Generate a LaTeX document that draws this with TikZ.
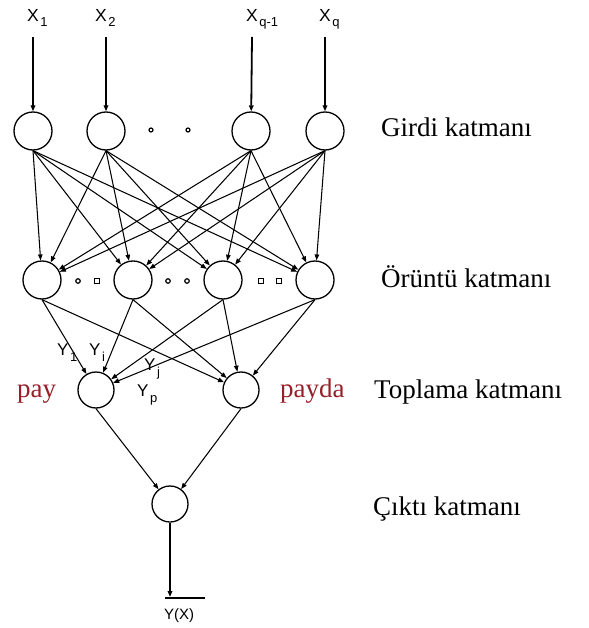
\documentclass[tikz,border=0pt]{standalone}
\usepackage{fontspec}
\setmainfont{Liberation Serif}
\setsansfont{Liberation Sans}
\usetikzlibrary{arrows.meta}

\definecolor{payred}{RGB}{150,32,42}

% lowered index in the sans labels
\newcommand\lowidx[2][5pt]{\kern1.5pt\raisebox{-#1}{\fontsize{13}{13}\selectfont #2}}

\begin{document}
\begin{tikzpicture}[x=1pt,y=-1pt,
  neuron/.style={draw, circle, line width=1.3pt, minimum size=38pt, inner sep=0pt},
  small neuron/.style={neuron, minimum size=36pt},
  link/.style={-{Triangle[length=6pt,width=4.5pt]}, line width=1.05pt},
  feed/.style={-{Triangle[length=6pt,width=4.5pt]}, line width=1.8pt},
  inlabel/.style={font=\sffamily\fontsize{17.5}{17.5}\selectfont, inner sep=0pt, anchor=base west},
  ylabel/.style={font=\sffamily\fontsize{17}{17}\selectfont, inner sep=0pt, anchor=base west},
  layer/.style={font=\fontsize{27}{27}\selectfont, inner sep=0pt, anchor=base west},
  redtext/.style={layer, text=payred},
  dotc/.style={draw, circle, line width=1.2pt, minimum size=4.5pt, inner sep=0pt},
  dots/.style={draw, rectangle, line width=1.2pt, minimum size=4.5pt, inner sep=0pt},
  ]
\useasboundingbox (0,0) rectangle (588,628);

% input labels and the free ends of the feeding arrows
\node[inlabel] (lx1) at (27,22) {X\lowidx{1}};
\node[inlabel] (lx2) at (95,22) {X\lowidx{2}};
\node[inlabel] (lx3) at (246,22) {X\lowidx{q-1}};
\node[inlabel] (lx4) at (319,22) {X\lowidx{q}};
\coordinate (t1) at (33,37);
\coordinate (t2) at (106,37);
\coordinate (t3) at (252,37);
\coordinate (t4) at (325,37);

% input layer
\node[neuron] (i1) at (33,131) {};
\node[neuron] (i2) at (106,131) {};
\node[neuron] (i3) at (251,131) {};
\node[neuron] (i4) at (325,131) {};
\node[dotc, minimum size=4pt] (di1) at (151,130) {};
\node[dotc, minimum size=4pt] (di2) at (188,130) {};

% pattern layer
\node[neuron] (p1) at (42,280) {};
\node[neuron] (p2) at (133,280) {};
\node[neuron] (p3) at (223,280) {};
\node[neuron] (p4) at (315,280) {};
\node[dotc] (dp1) at (78,281) {};
\node[dots] (dp2) at (97,281) {};
\node[dotc] (dp3) at (168,281) {};
\node[dotc] (dp4) at (187,281) {};
\node[dots] (dp5) at (261,281) {};
\node[dots] (dp6) at (279,281) {};

% summation layer
\node[small neuron] (s1) at (96,390) {};
\node[small neuron] (s2) at (241,390) {};

% output layer
\node[small neuron] (o) at (170,504) {};
\coordinate (yend) at (170,597);
\coordinate (barl) at (165,598);
\coordinate (barr) at (205,598);
\node[font=\sffamily\fontsize{15}{15}\selectfont, inner sep=0pt] (ylab) at (179,616) {Y(X)};

% connectors
\foreach \k in {1,...,4} \draw[feed] (t\k) -- (i\k);
\foreach \a in {1,...,4} \foreach \b in {1,...,4} \draw[link] (i\a.south) -- (p\b);
\foreach \a in {1,...,4} {
  \draw[link] (p\a.south) -- (s1);
  \draw[link] (p\a.south) -- (s2);
}
\draw[link] (s1.south) -- (o);
\draw[link] (s2.south) -- (o);
\draw[feed] (o.south) -- (yend);
\draw[line width=1.4pt] (barl) -- (barr);

% weights into the numerator node
\node[ylabel] (y1) at (57,355) {Y\lowidx[6pt]{1}};
\node[ylabel] (yi) at (89,355) {Y\lowidx[6pt]{i}};
\node[ylabel] (yj) at (144,370) {Y\lowidx[6pt]{j}};
\node[ylabel] (yp) at (137,396) {Y\lowidx[6pt]{p}};

% side labels
\node[redtext] (pay) at (17,397) {pay};
\node[redtext] (payda) at (280,397) {payda};
\node[layer] (l1) at (381,137) {Girdi katmanı};
\node[layer] (l2) at (381,287) {Örüntü katmanı};
\node[layer] (l3) at (374,398) {Toplama katmanı};
\node[layer] (l4) at (373,515) {Çıktı katmanı};
\end{tikzpicture}
\end{document}
